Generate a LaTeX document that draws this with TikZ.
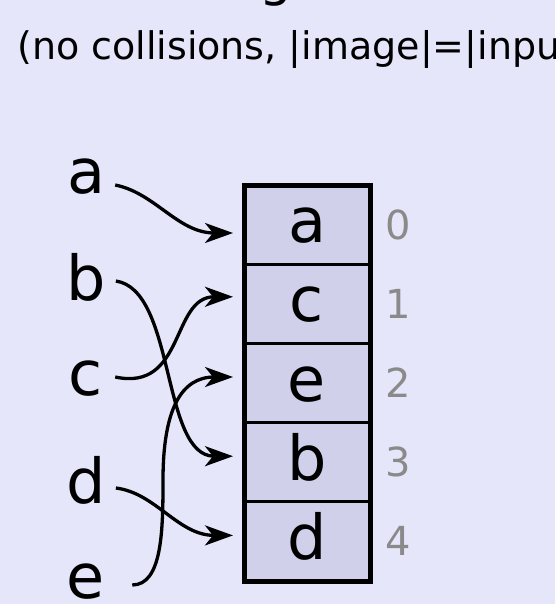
\documentclass[tikz,border=0pt]{standalone}
\usepackage{fontspec}
\setmainfont{DejaVu Sans}
\usetikzlibrary{positioning,arrows.meta}

\definecolor{bgcolor}{RGB}{230,230,250}
\definecolor{slotcolor}{RGB}{208,208,234}
\definecolor{idxcolor}{RGB}{138,138,138}

\tikzset{
  slot/.style={draw, line width=3.3pt, fill=slotcolor, outer sep=0pt, inner sep=0pt,
    minimum width=126pt, minimum height=79.2pt, text height=40pt, text depth=4pt,
    font=\fontsize{62}{62}\selectfont},
  key/.style={inner sep=0pt, anchor=base, font=\fontsize{62}{62}\selectfont},
  idx/.style={inner sep=0pt, text=idxcolor, font=\fontsize{40}{40}\selectfont},
  hasharrow/.style={line width=3.3pt, -{Stealth[length=28pt,width=20pt,inset=8pt]}},
}

\begin{document}
\begin{tikzpicture}[x=1pt, y=-1pt]
        \fill[bgcolor] (0, 0) rectangle (555, 604);
        \useasboundingbox (0, 0) rectangle (555, 604);

        % Title
        \node[anchor=base, inner sep=0pt, font=\fontsize{52}{52}\selectfont] (title) at (276, -4) {g};
        \node[anchor=base west, inner sep=0pt, font=\fontsize{38}{38}\selectfont] (subtitle) at (17, 60) {(no collisions, |image|=|input|)};

        % Slots
        \node[slot] (s0) at (307, 224.6) {a};
        \node[slot, below=0pt of s0] (s1) {c};
        \node[slot, below=0pt of s1] (s2) {e};
        \node[slot, below=0pt of s2] (s3) {b};
        \node[slot, below=0pt of s3] (s4) {d};
        \draw[line width=5pt] (s0.north west) rectangle (s4.south east);

        % Indices
        \node[idx, right=15pt of s0] (i0) {0};
        \node[idx, right=15pt of s1] (i1) {1};
        \node[idx, right=15pt of s2] (i2) {2};
        \node[idx, right=15pt of s3] (i3) {3};
        \node[idx, right=15pt of s4] (i4) {4};

        % Keys
        \node[key] (ka) at (86, 193) {a};
        \node[key] (kb) at (86, 300) {b};
        \node[key] (kc) at (86, 395) {c};
        \node[key] (kd) at (86, 503) {d};
        \node[key] (ke) at (86, 598) {e};

        % Connections
        \draw[hasharrow] ([xshift=10pt, yshift=8pt]ka.base east) .. controls +(40, 8) and +(-55, 0) .. ([xshift=-11pt, yshift=-8.4pt]s0.west);
        \draw[hasharrow] ([xshift=10pt, yshift=19pt]kb.base east) .. controls +(60, 9) and +(-72, 0) .. ([xshift=-11pt, yshift=6pt]s3.west);
        \draw[hasharrow] ([xshift=12pt, yshift=18pt]kc.base east) .. controls +(70, 15) and +(-62, 0) .. ([xshift=-11pt, yshift=7pt]s1.west);
        \draw[hasharrow] ([xshift=10pt, yshift=15pt]kd.base east) .. controls +(40, 5) and +(-55, 0) .. ([xshift=-11pt, yshift=6pt]s4.west);
        \draw[hasharrow] ([xshift=27pt, yshift=13pt]ke.base east) .. controls +(30, 0) and +(0, 50) .. (163, 480)
            .. controls +(0, -70) and +(-52, 0) .. ([xshift=-11pt, yshift=6pt]s2.west);
\end{tikzpicture}
\end{document}
